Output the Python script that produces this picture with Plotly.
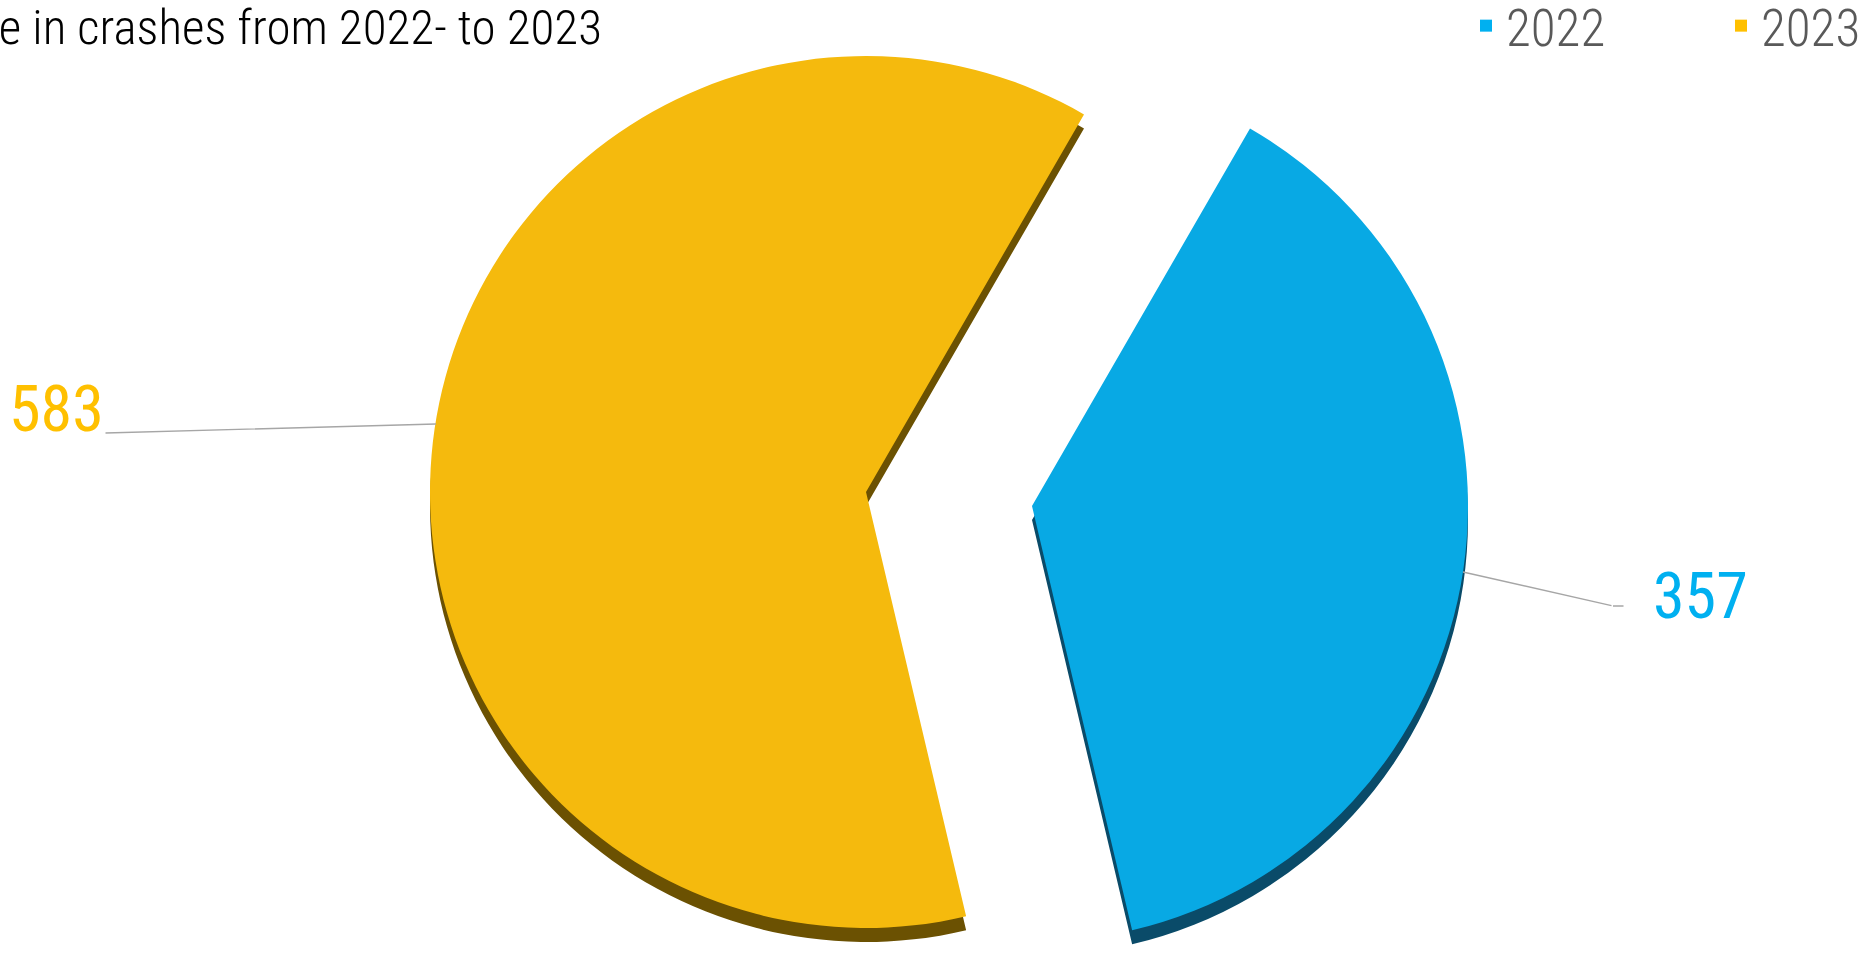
import plotly.graph_objects as go

# Crash counts per year
years = ["2022", "2023"]
crashes = [357, 583]

slice_colors = ["#08A9E4", "#F5BA0D"]
side_colors = ["#0A4B69", "#6B5102"]
label_colors = ["#00B0F0", "#FFC000"]

title_text = "Increase in crashes from 2022- to 2023"

W, H = 1872, 957
R = 436            # slice radius, px
DEPTH = 14         # visible thickness of the slice edge, px
FONT = "Roboto Condensed, Roboto, sans-serif"
LINE = "#A6A6A6"

# exploded slices: each slice gets its own pie centre (px from top-left)
centres = {"2022": (1032, 506), "2023": (866, 492)}


def domain_for(cx, cy):
    return dict(x=[max(0, (cx - R) / W), min(1, (cx + R) / W)],
                y=[max(0, 1 - (cy + R) / H), min(1, 1 - (cy - R) / H)])


def only(year, palette):
    # colour one slice, leave the other one transparent
    return [c if y == year else "rgba(0,0,0,0)" for y, c in zip(years, palette)]


def px(x, y):
    return x / W, 1 - y / H


common = dict(labels=years, values=crashes, sort=False, direction="clockwise",
              rotation=30, textinfo="none", hoverinfo="skip")

fig = go.Figure()

# legend entries (tiny pie hidden under the large slice)
fig.add_trace(go.Pie(**common, marker=dict(colors=label_colors, line=dict(width=0)),
                     domain=dict(x=[0.35, 0.3502], y=[0.5, 0.5002])))

# slice edges: darker copies shifted down
for yr in years:
    cx, cy = centres[yr]
    fig.add_trace(go.Pie(**common, showlegend=False,
                         marker=dict(colors=only(yr, side_colors), line=dict(width=0)),
                         domain=domain_for(cx, cy + DEPTH)))

# slice tops
for yr in years:
    cx, cy = centres[yr]
    fig.add_trace(go.Pie(**common, showlegend=False,
                         marker=dict(colors=only(yr, slice_colors), line=dict(width=0)),
                         domain=domain_for(cx, cy)))

# value labels
label_xy = {"2023": (56, 410), "2022": (1700, 596)}
for yr, val, col in zip(years, crashes, label_colors):
    lx, ly = px(*label_xy[yr])
    fig.add_annotation(x=lx, y=ly, xref="paper", yref="paper", showarrow=False,
                       text=str(val), xanchor="center", yanchor="middle",
                       font=dict(family=FONT, size=64, color=col, weight=400))

# leader lines: (head on slice edge, tail near label)
leaders = [
    ((436, 424), (104, 433)),
    ((1463, 572), (1613, 606)),
    ((1613, 606), (1625, 606)),
]
for (hx, hy), (tx, ty) in leaders:
    x, y = px(hx, hy)
    fig.add_annotation(x=x, y=y, xref="paper", yref="paper",
                       ax=tx - hx, ay=ty - hy, axref="pixel", ayref="pixel",
                       text="", showarrow=True, arrowhead=0, arrowwidth=1.4,
                       arrowcolor=LINE, standoff=0, startstandoff=0)

fig.update_layout(
    width=W, height=H,
    margin=dict(l=0, r=0, t=0, b=0, autoexpand=False),
    paper_bgcolor="white", plot_bgcolor="white",
    title=dict(text=title_text, x=602 / W, xanchor="right", xref="container",
               y=1 - 27 / H, yanchor="middle", yref="container",
               font=dict(family=FONT, size=49, color="#000000", weight=300)),
    legend=dict(orientation="h", x=1466 / W, xanchor="left", y=1 + 14 / H, yanchor="top",
                entrywidth=210, entrywidthmode="pixels",
                font=dict(family=FONT, size=51, color="#595959", weight=300),
                bgcolor="rgba(0,0,0,0)"),
)

fig.write_html("out.html")
